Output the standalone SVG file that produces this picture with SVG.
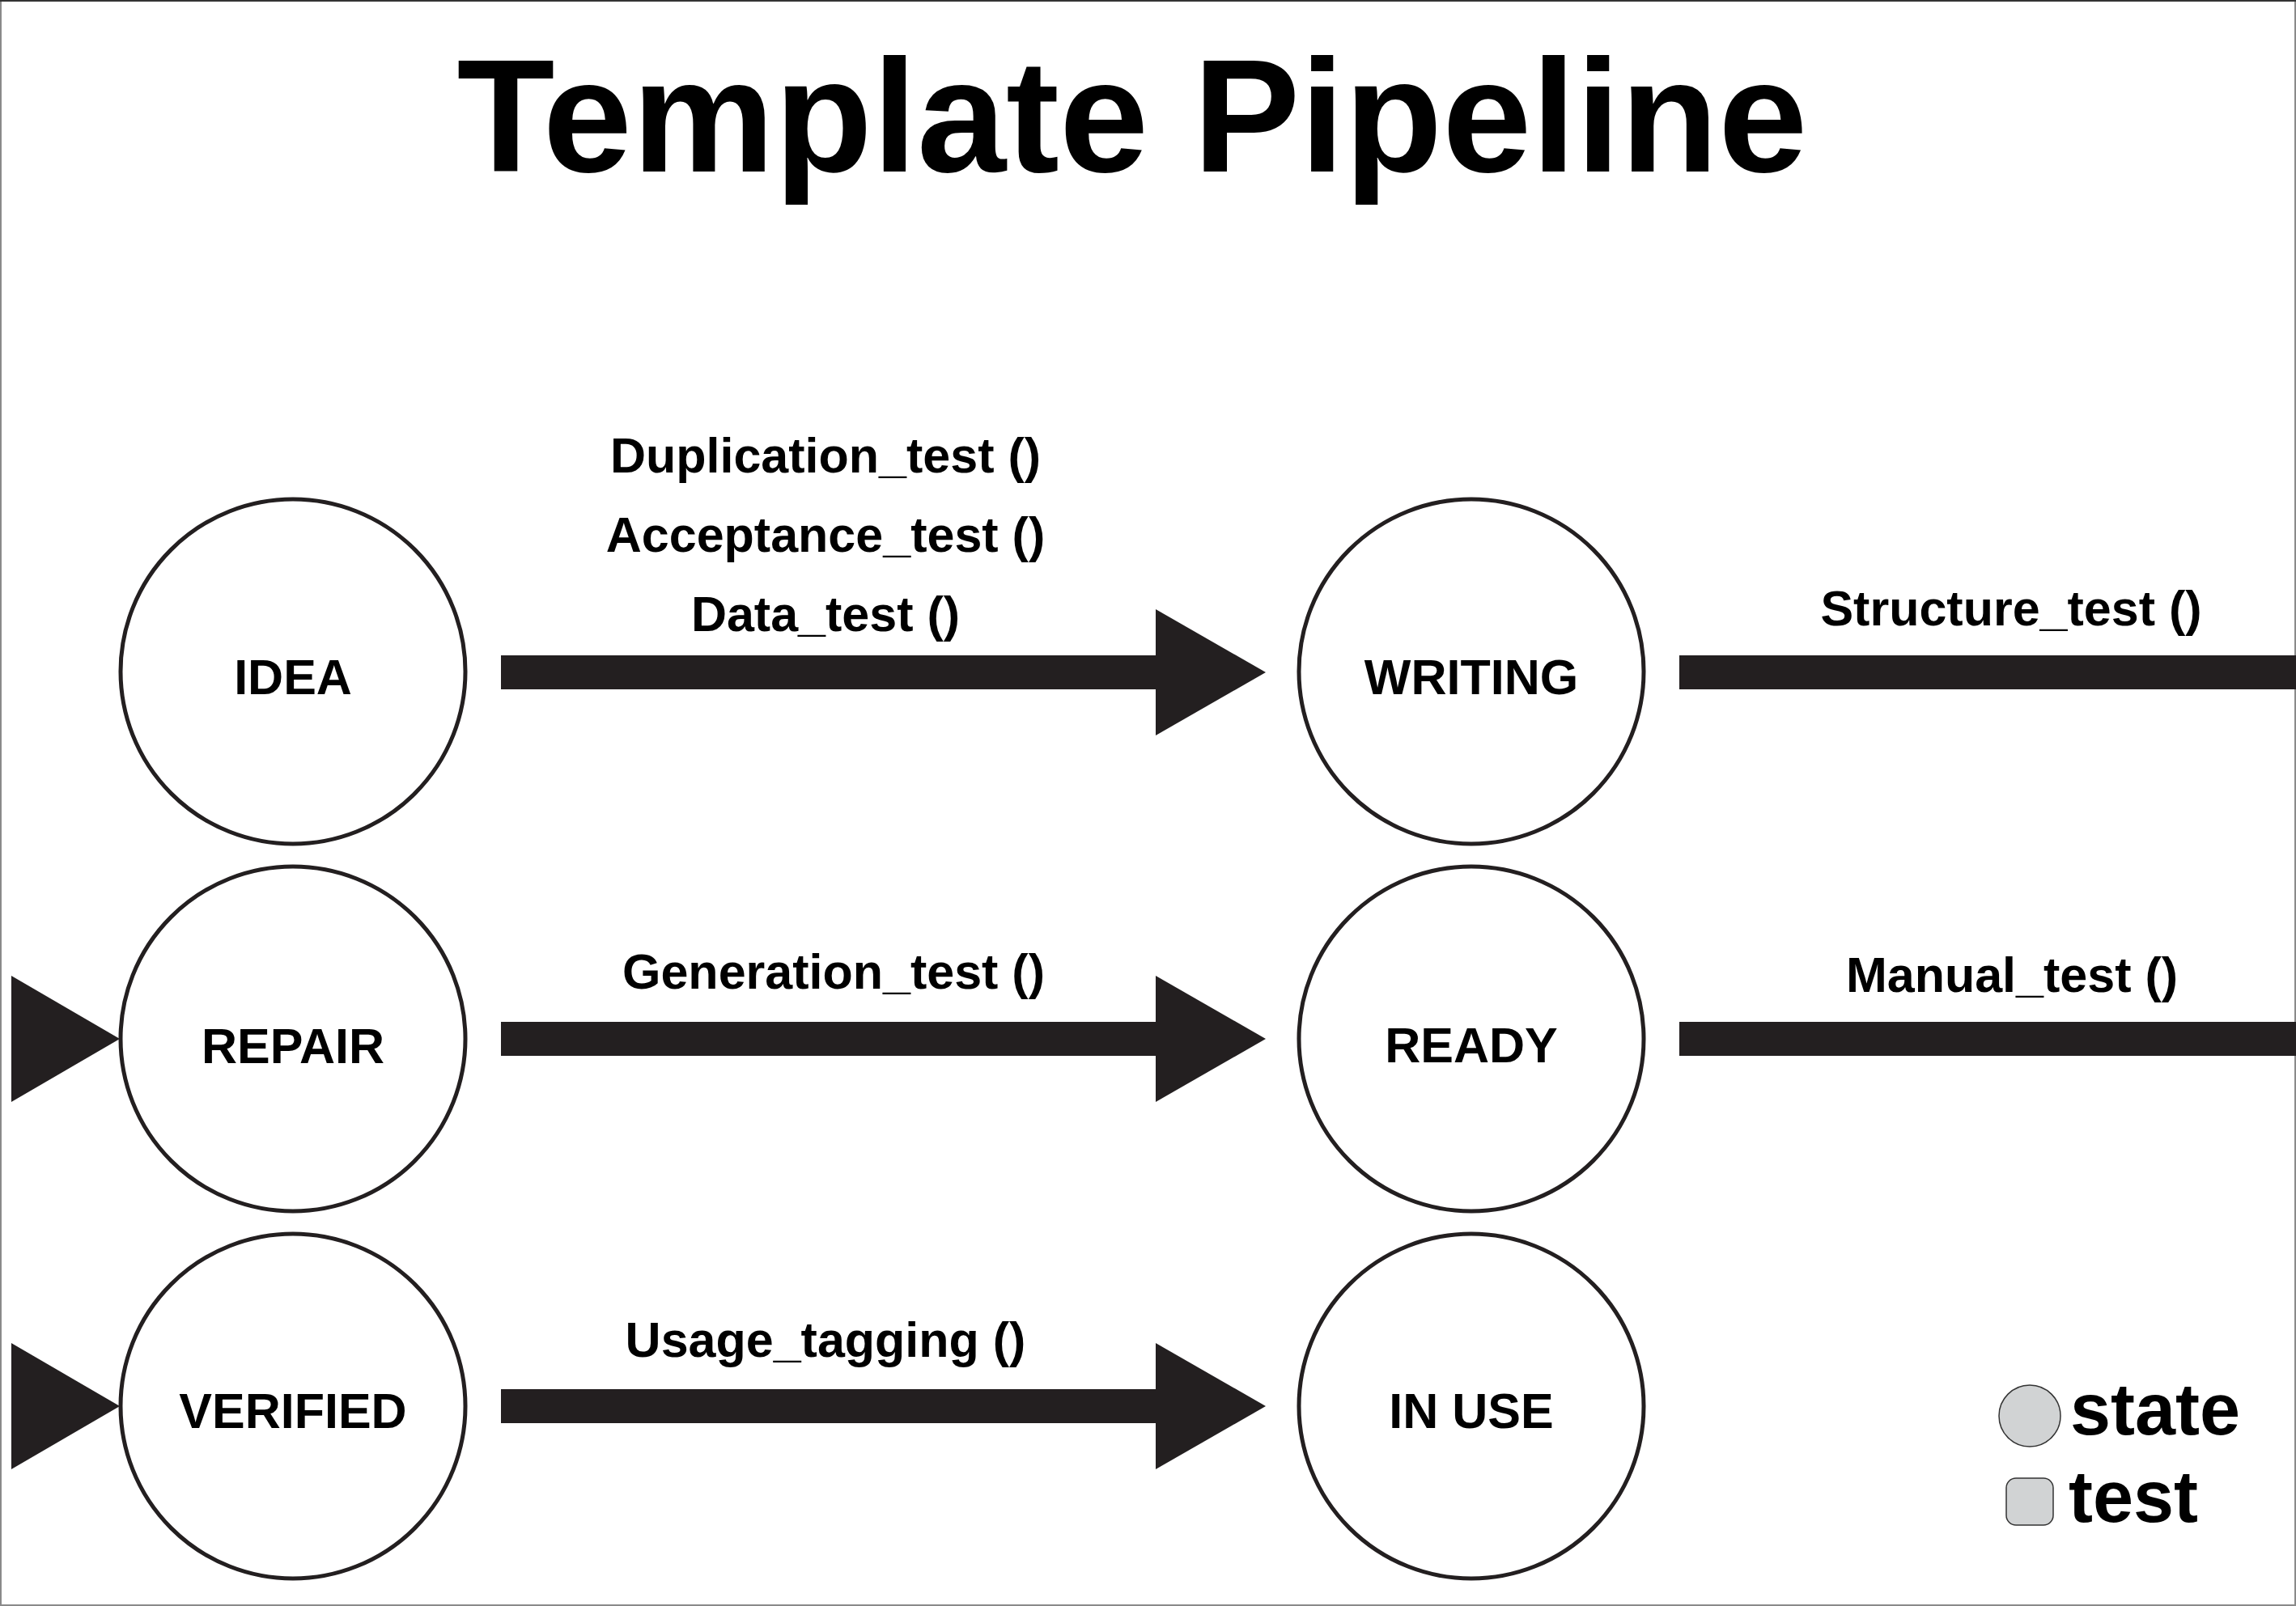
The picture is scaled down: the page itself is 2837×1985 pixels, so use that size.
<svg xmlns="http://www.w3.org/2000/svg" width="2837" height="1985" viewBox="0 0 2837 1985">
<style>
.node{fill:#fff;stroke:#231f20;stroke-width:5}
.nl{font-family:"Liberation Sans",Arial,sans-serif;font-weight:bold;font-size:61px;fill:#000;text-anchor:middle}
.el{font-family:"Liberation Sans",Arial,sans-serif;font-weight:bold;font-size:61px;fill:#000;text-anchor:middle}
.bar{fill:#231f20}
.leg{fill:#d1d3d4;stroke:#333;stroke-width:1.5}
.lt{font-family:"Liberation Sans",Arial,sans-serif;font-weight:bold;font-size:90px;fill:#000}
</style>
<rect x="1" y="1" width="2835" height="1983" fill="#fff" stroke="#8a8a8a" stroke-width="2"/>
<line x1="0" y1="1" x2="2837" y2="1" stroke="#333" stroke-width="2"/>
<text x="1399" y="212" font-family="'Liberation Sans',Arial,sans-serif" font-weight="bold" font-size="198" text-anchor="middle">Template Pipeline</text>
<g id="connectors">
<g id="e-idea-writing"><rect class="bar" x="619" y="810" width="811" height="42"/><polygon class="bar" points="1428,753 1564,831 1428,909"/></g>
<g id="e-repair-ready"><rect class="bar" x="619" y="1263" width="811" height="42"/><polygon class="bar" points="1428,1206 1564,1284 1428,1362"/></g>
<g id="e-verified-inuse"><rect class="bar" x="619" y="1717" width="811" height="42"/><polygon class="bar" points="1428,1660 1564,1738 1428,1816"/></g>
<g id="e-writing-out"><rect class="bar" x="2075" y="810" width="762" height="42"/></g>
<g id="e-ready-out"><rect class="bar" x="2075" y="1263" width="762" height="42"/></g>
<g id="e-in-repair"><polygon class="bar" points="14,1206 148,1284 14,1362"/></g>
<g id="e-in-verified"><polygon class="bar" points="14,1660 148,1738 14,1816"/></g>
<text class="el" x="1020" y="584">Duplication_test ()</text>
<text class="el" x="1020" y="682">Acceptance_test ()</text>
<text class="el" x="1020" y="780">Data_test ()</text>
<text class="el" x="2485" y="773">Structure_test ()</text>
<text class="el" x="1030" y="1222">Generation_test ()</text>
<text class="el" x="2486" y="1226">Manual_test ()</text>
<text class="el" x="1020" y="1677">Usage_tagging ()</text>
</g>
<g id="idea"><circle class="node" cx="362" cy="830" r="213"/><text class="nl" x="362" y="858">IDEA</text></g>
<g id="repair"><circle class="node" cx="362" cy="1284" r="213"/><text class="nl" x="362" y="1314">REPAIR</text></g>
<g id="verified"><circle class="node" cx="362" cy="1738" r="213"/><text class="nl" x="362" y="1765">VERIFIED</text></g>
<g id="writing"><circle class="node" cx="1818" cy="830" r="213"/><text class="nl" x="1818" y="858">WRITING</text></g>
<g id="ready"><circle class="node" cx="1818" cy="1284" r="213"/><text class="nl" x="1818" y="1313">READY</text></g>
<g id="inuse"><circle class="node" cx="1818" cy="1738" r="213"/><text class="nl" x="1818" y="1765">IN USE</text></g>
<g id="legend">
<circle class="leg" cx="2508" cy="1750" r="38"/>
<text class="lt" x="2558" y="1773">state</text>
<rect class="leg" x="2479" y="1827" width="58" height="58" rx="12"/>
<text class="lt" x="2556" y="1881">test</text>
</g>
</svg>
